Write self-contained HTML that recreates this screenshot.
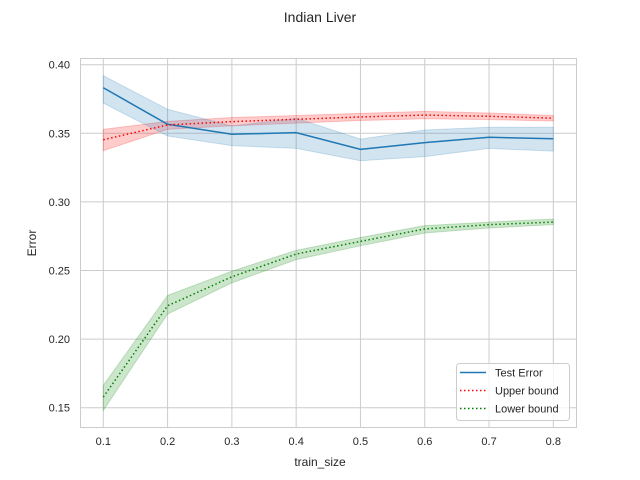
<!DOCTYPE html>
<html><head><meta charset="utf-8"><style>
body{margin:0;background:#fff;}
svg{display:block;font-family:"Liberation Sans","DejaVu Sans",sans-serif;}
</style></head><body>
<svg id="chart" width="640" height="480">
<text x="320" y="22" text-anchor="middle" font-size="14" fill="#262626">Indian Liver</text>
<g id="grid"></g>
<g id="bands"></g>
<g id="lines"></g>
<rect x="80.5" y="58.5" width="496" height="369" fill="none" stroke="#ccc" stroke-width="1"/>
<g id="ticks" font-size="11" fill="#262626"></g>
<text x="320" y="466" text-anchor="middle" font-size="12" fill="#262626">train_size</text>
<text transform="translate(36,243) rotate(-90)" text-anchor="middle" font-size="12" fill="#262626">Error</text>
<g>
<rect x="456.5" y="363.5" width="113" height="57" rx="3" fill="#fff" fill-opacity="0.8" stroke="#ccc"/>
<line x1="460" y1="372.5" x2="486" y2="372.5" stroke="#1f77b4" stroke-width="1.5"/>
<text x="495" y="376.5" font-size="11" fill="#262626">Test Error</text>
<line x1="460" y1="390.5" x2="486" y2="390.5" stroke="red" stroke-width="1.5" stroke-dasharray="1.5,2.5"/>
<text x="495" y="394.5" font-size="11" fill="#262626">Upper bound</text>
<line x1="460" y1="408.5" x2="486" y2="408.5" stroke="green" stroke-width="1.5" stroke-dasharray="1.5,2.5"/>
<text x="495" y="412.5" font-size="11" fill="#262626">Lower bound</text>
</g>
</svg>
<script>
const xs=[0.1,0.2,0.3,0.4,0.5,0.6,0.7,0.8];
const xTicks=["0.1","0.2","0.3","0.4","0.5","0.6","0.7","0.8"];
const yTicks=[0.15,0.20,0.25,0.30,0.35,0.40];
const testMean=[0.3832,0.3566,0.3493,0.3505,0.3383,0.3432,0.3471,0.3460];
const testHi=[0.392,0.3675,0.3553,0.361,0.3458,0.3524,0.3544,0.3544];
const testLo=[0.372,0.348,0.341,0.339,0.330,0.333,0.339,0.337];
const upMean=[0.3453,0.3561,0.3585,0.3602,0.3619,0.3633,0.3624,0.3610];
const upHi=[0.3529,0.3587,0.3615,0.3630,0.3645,0.3660,0.3648,0.3630];
const upLo=[0.3373,0.3529,0.3555,0.3574,0.3593,0.3606,0.3600,0.3590];
const loMean=[0.1578,0.2243,0.2454,0.2620,0.2712,0.2803,0.2834,0.2853];
const loHi=[0.1663,0.2318,0.2495,0.2647,0.2741,0.2827,0.2853,0.2875];
const loLo=[0.148,0.2183,0.241,0.2579,0.268,0.2773,0.281,0.2834];
const X=v=>103.3+(v-0.1)/0.1*64.29;
const Y=v=>64.7+(0.40-v)/0.05*68.6;
const NS="http://www.w3.org/2000/svg";
function mk(tag,parent,attrs){const e=document.createElementNS(NS,tag);for(const k in attrs)e.setAttribute(k,attrs[k]);document.getElementById(parent).appendChild(e);return e;}
xs.forEach((v,i)=>{
 const l=mk('line','grid',{x1:X(v),x2:X(v),y1:58,y2:427,stroke:'#ccc'});
 
 
 const t=mk('text','ticks',{x:X(v),y:445,'text-anchor':'middle'});t.textContent=xTicks[i];
 
 
});
yTicks.forEach(v=>{
 const l=mk('line','grid',{x1:80,x2:576,y1:Y(v),y2:Y(v),stroke:'#ccc'});
 
 
 const t=mk('text','ticks',{x:70,y:Y(v)+4,'text-anchor':'end'});t.textContent=v.toFixed(2);
 
 
});
function band(hi,lo,col,name){
 let p=xs.map((v,i)=>X(v)+','+Y(hi[i])).concat(xs.slice().reverse().map((v,j)=>{const i=xs.length-1-j;return X(v)+','+Y(lo[i]);}));
 const e=mk('polygon','bands',{points:p.join(' '),fill:col,'fill-opacity':0.2,stroke:col,'stroke-opacity':0.2});
 
 
}
function line(m,col,dash,name){
 const e=mk('polyline','lines',{points:xs.map((v,i)=>X(v)+','+Y(m[i])).join(' '),fill:'none',stroke:col,'stroke-width':1.5});
 if(dash)e.setAttribute('stroke-dasharray','1.5,2.5');
 
 
}
band(upHi,upLo,'red','upper-bound-band');
band(testHi,testLo,'#1f77b4','test-error-band');
band(loHi,loLo,'green','lower-bound-band');
line(testMean,'#1f77b4',false,'test-error-line');
line(upMean,'red',true,'upper-bound-line');
line(loMean,'green',true,'lower-bound-line');
</script>
</body></html>
